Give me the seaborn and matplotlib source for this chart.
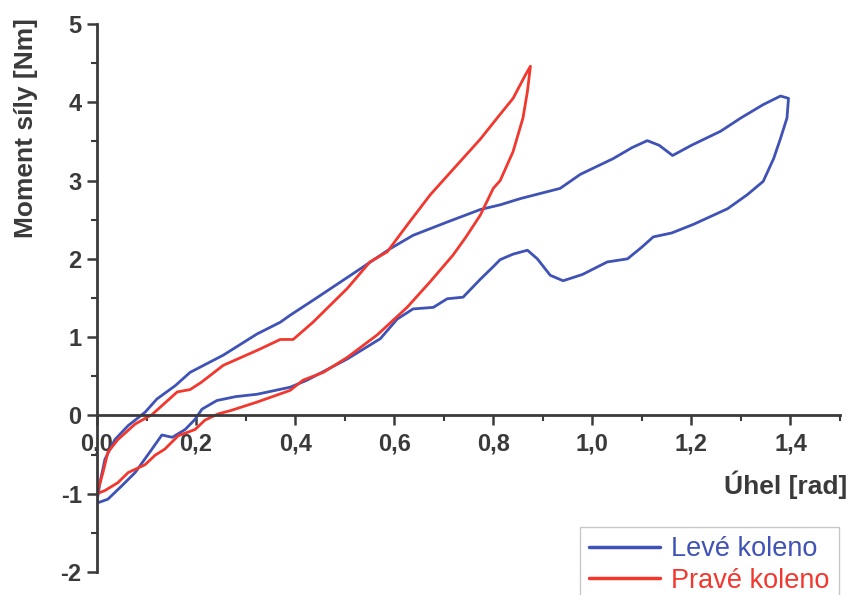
import matplotlib
matplotlib.use("Agg")
import matplotlib.pyplot as plt
from matplotlib.ticker import MultipleLocator, FuncFormatter
import seaborn as sns

# Levé koleno (blue loop): loading branch then unloading branch
left_angle = [0.0, 0.022, 0.05, 0.077, 0.111, 0.131, 0.152, 0.178, 0.198, 0.212,
              0.242, 0.28, 0.323, 0.39, 0.424, 0.505, 0.572, 0.606, 0.638, 0.679,
              0.707, 0.739, 0.774, 0.80, 0.814, 0.84, 0.869, 0.889, 0.915, 0.941,
              0.98, 1.03, 1.071, 1.10, 1.123, 1.16, 1.204, 1.273, 1.313, 1.345,
              1.366, 1.38, 1.393, 1.396,
              1.38, 1.345, 1.30, 1.259, 1.20, 1.162, 1.135, 1.111, 1.08, 1.042,
              0.976, 0.935, 0.855, 0.814, 0.774, 0.707, 0.638, 0.592, 0.531, 0.436,
              0.39, 0.37, 0.323, 0.255, 0.188, 0.158, 0.121, 0.097, 0.063, 0.036,
              0.016, 0.006, 0.0]
left_moment = [-1.12, -1.07, -0.9, -0.73, -0.43, -0.25, -0.28, -0.18, -0.05, 0.08,
               0.19, 0.24, 0.27, 0.36, 0.45, 0.72, 0.98, 1.23, 1.36, 1.38,
               1.49, 1.51, 1.74, 1.9, 1.99, 2.06, 2.11, 2.0, 1.79, 1.72,
               1.8, 1.96, 2.0, 2.15, 2.28, 2.33, 2.44, 2.64, 2.82, 2.99,
               3.28, 3.54, 3.8, 4.05,
               4.08, 3.97, 3.8, 3.63, 3.45, 3.32, 3.45, 3.51, 3.42, 3.28,
               3.08, 2.90, 2.77, 2.69, 2.63, 2.47, 2.3, 2.13, 1.87, 1.47,
               1.28, 1.19, 1.04, 0.77, 0.55, 0.38, 0.21, 0.04, -0.13, -0.31,
               -0.56, -0.86, -1.1]

# Pravé koleno (red loop)
right_angle = [0.0, 0.016, 0.042, 0.063, 0.097, 0.117, 0.137, 0.164, 0.198, 0.218,
               0.245, 0.269, 0.323, 0.39, 0.416, 0.457, 0.505, 0.566, 0.626, 0.673,
               0.719, 0.745, 0.774, 0.80, 0.814, 0.84, 0.86, 0.869, 0.875,
               0.865, 0.84, 0.808, 0.774, 0.727, 0.673, 0.626, 0.586, 0.551, 0.505,
               0.436, 0.396, 0.37, 0.323, 0.255, 0.21, 0.188, 0.162, 0.111, 0.077,
               0.042, 0.022, 0.012, 0.0]
right_moment = [-1.0, -0.96, -0.86, -0.73, -0.63, -0.51, -0.43, -0.26, -0.18, -0.06,
                0.02, 0.06, 0.17, 0.32, 0.45, 0.55, 0.74, 1.03, 1.38, 1.71,
                2.05, 2.28, 2.56, 2.9, 3.0, 3.37, 3.8, 4.14, 4.46,
                4.35, 4.05, 3.8, 3.53, 3.2, 2.82, 2.43, 2.09, 1.96, 1.62,
                1.19, 0.97, 0.97, 0.83, 0.64, 0.42, 0.33, 0.30, 0.01, -0.11,
                -0.31, -0.47, -0.73, -1.0]

blue = "#3f52b6"
red = "#f2382e"
dark = "#3a3a3a"

sns.set_theme(style="ticks")
plt.rcParams['font.family'] = ['Liberation Sans', 'DejaVu Sans']

fig = plt.figure(figsize=(8.5, 5.95), dpi=100)
ax = fig.add_axes([97 / 850, 0.0387, 743 / 850, 0.921])

sns.lineplot(x=left_angle, y=left_moment, sort=False, estimator=None,
             color=blue, linewidth=2.0, label="Levé koleno", ax=ax)
sns.lineplot(x=right_angle, y=right_moment, sort=False, estimator=None,
             color=red, linewidth=2.0, label="Pravé koleno", ax=ax)

ax.set_xlim(0, 1.5)
ax.set_ylim(-2, 5)

# axes crossing at origin
ax.spines['left'].set_position(('data', 0))
ax.spines['bottom'].set_position(('data', 0))
ax.spines['top'].set_visible(False)
ax.spines['right'].set_visible(False)
for s in ['left', 'bottom']:
    ax.spines[s].set_linewidth(2.0)
    ax.spines[s].set_color(dark)

ax.xaxis.set_major_locator(MultipleLocator(0.2))
ax.xaxis.set_minor_locator(MultipleLocator(0.1))
ax.yaxis.set_major_locator(MultipleLocator(1))
ax.yaxis.set_minor_locator(MultipleLocator(0.5))
ax.xaxis.set_major_formatter(FuncFormatter(lambda v, p: f"{v:.1f}".replace(".", ",")))
ax.yaxis.set_major_formatter(FuncFormatter(lambda v, p: f"{v:.0f}"))

ax.tick_params(which='major', direction='out', length=7, width=1.8, color=dark,
               labelsize=17, labelcolor=dark)
ax.tick_params(which='minor', direction='out', length=4, width=1.5, color=dark)
ax.tick_params(axis='x', pad=5)
ax.tick_params(axis='y', pad=4)
for lab in ax.get_xticklabels() + ax.get_yticklabels():
    lab.set_fontweight('bold')

ax.set_xlabel("")
ax.set_ylabel("")
fig.text(0.031, 0.785, "Moment síly [Nm]", rotation=90, ha='center', va='center',
         fontsize=19, fontweight='bold', color=dark)
fig.text(0.997, 0.185, "Úhel [rad]", ha='right', va='center',
         fontsize=19, fontweight='bold', color=dark)

leg = ax.legend(loc='upper left', bbox_to_anchor=(580 / 850, 1 - 527 / 595),
                bbox_transform=fig.transFigure, fontsize=19.5, labelcolor='linecolor',
                handlelength=2.6, frameon=True, fancybox=False, borderaxespad=0,
                labelspacing=0.2, handletextpad=0.4, borderpad=0.35)
leg.get_frame().set_edgecolor("#bbbbbb")
leg.get_frame().set_linewidth(1.0)
for line in leg.get_lines():
    line.set_linewidth(2.5)

fig.savefig("out.png", dpi=100)
